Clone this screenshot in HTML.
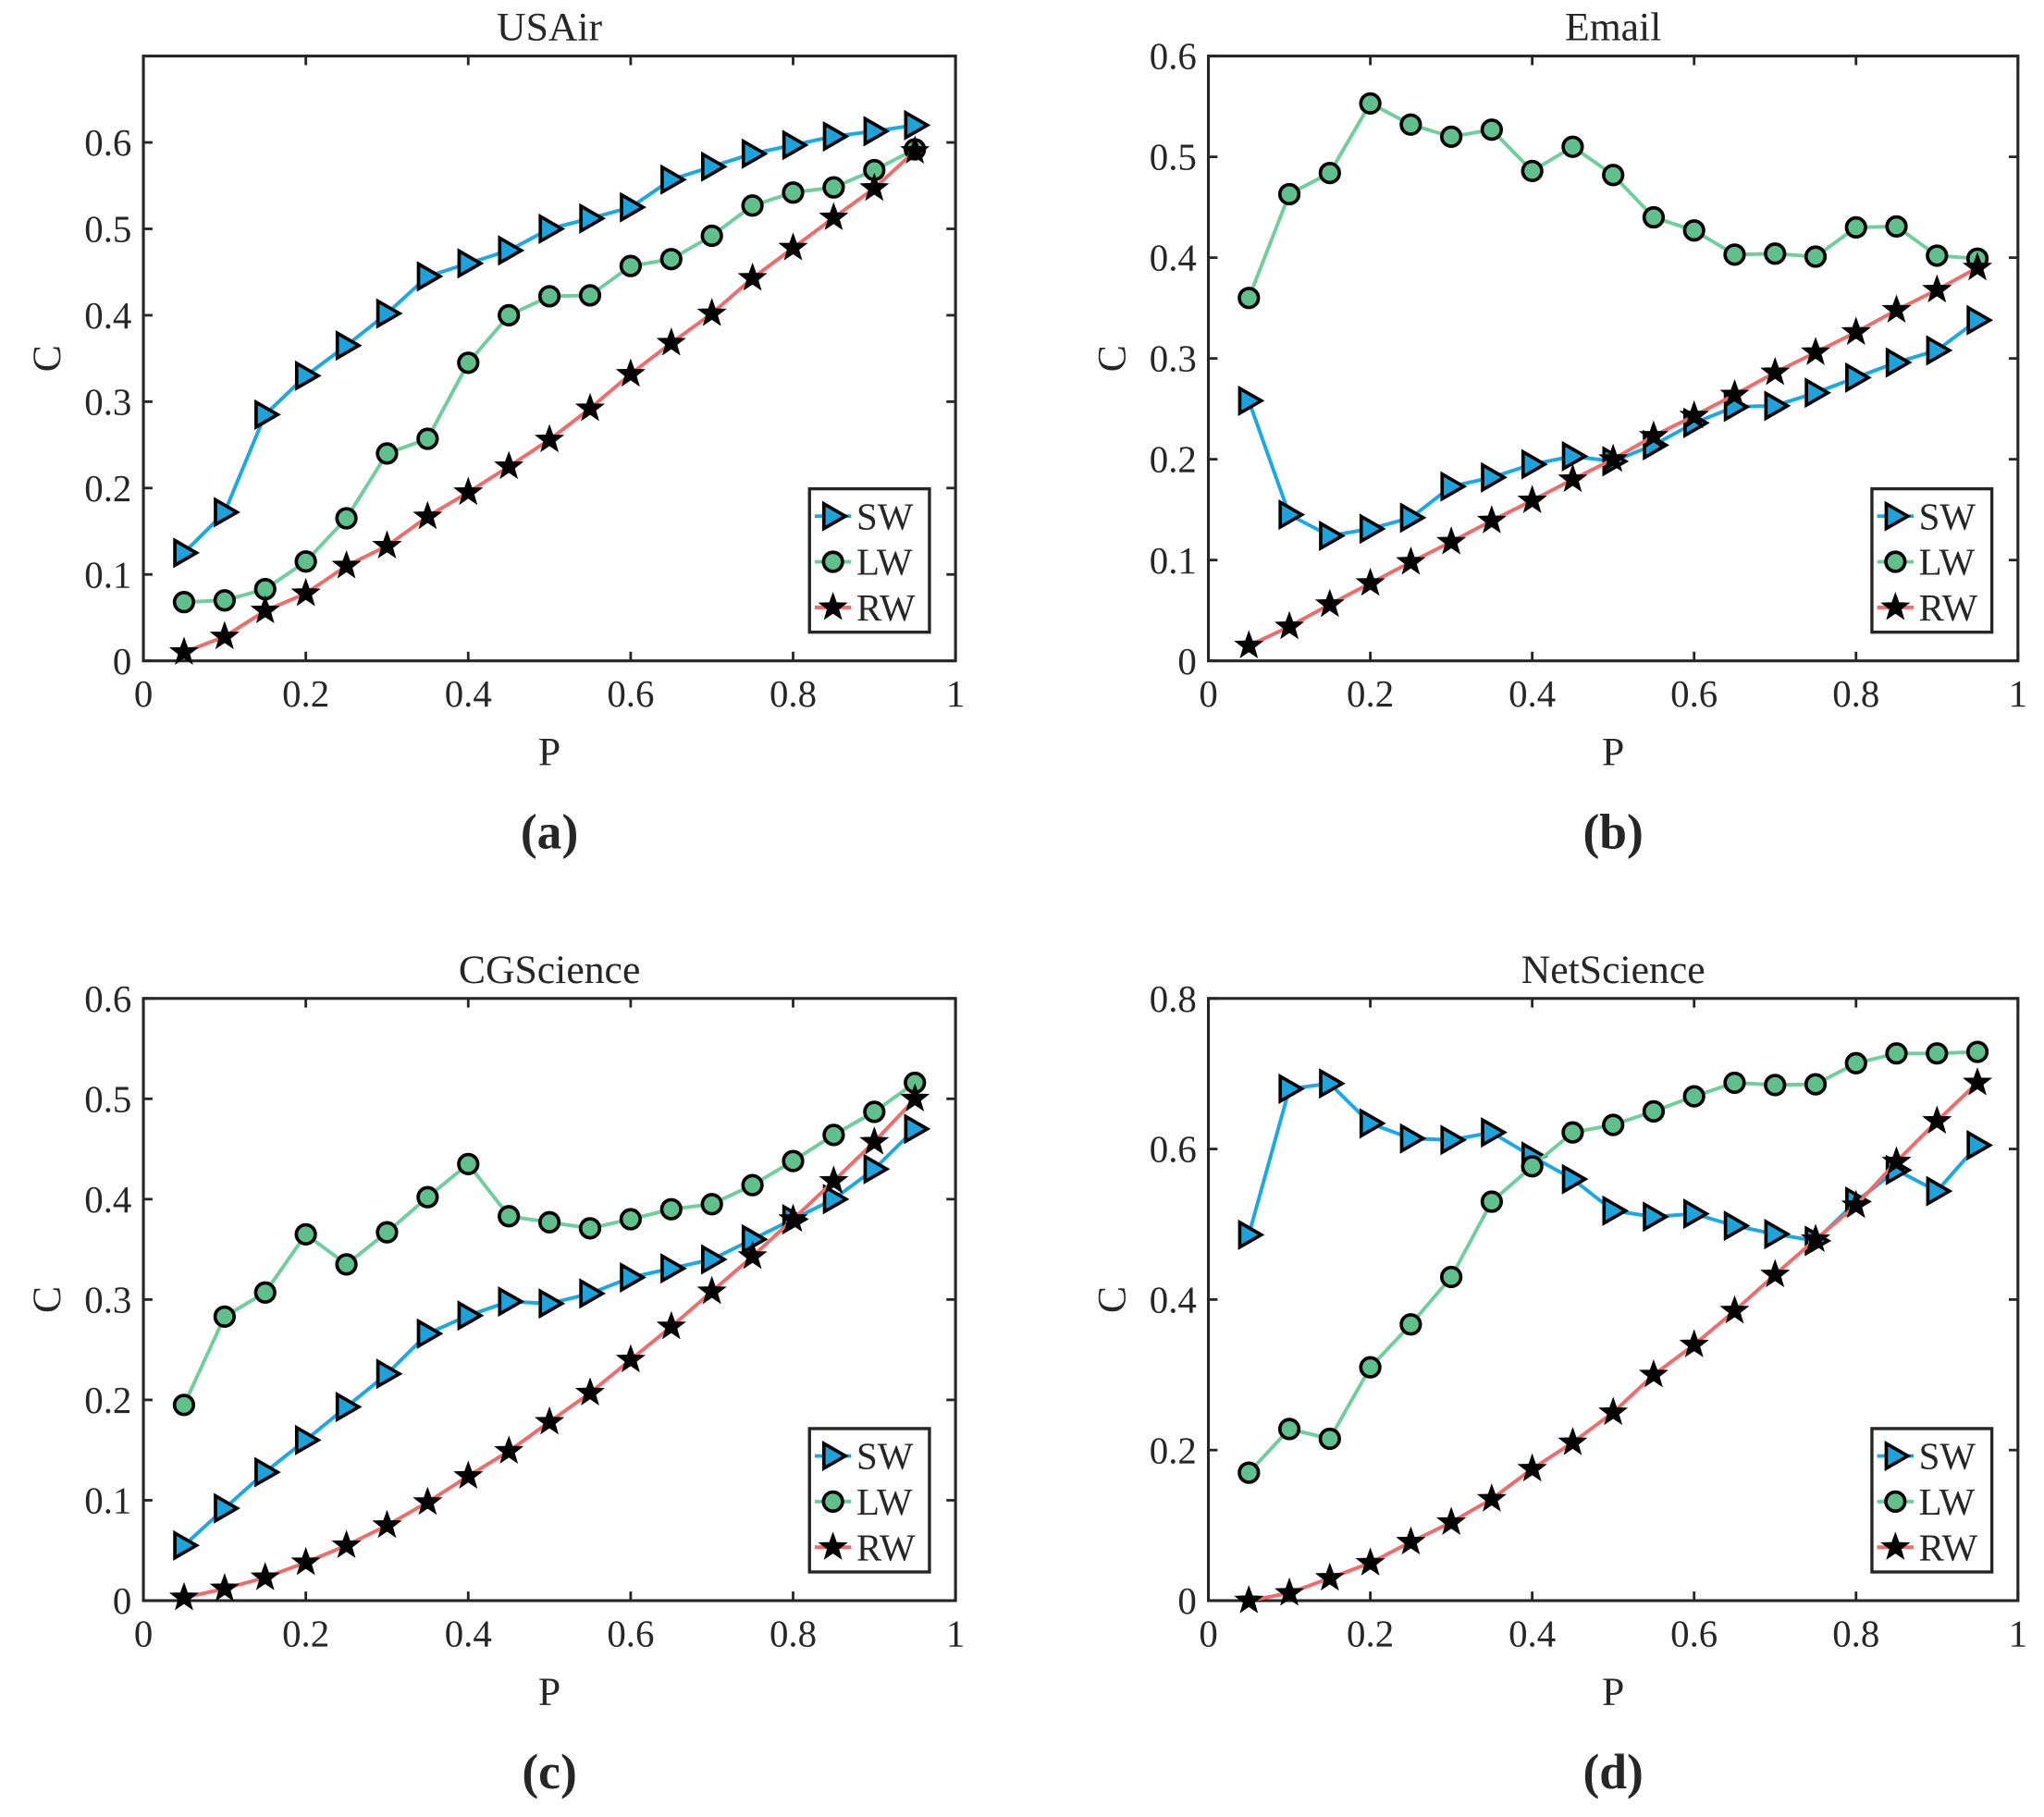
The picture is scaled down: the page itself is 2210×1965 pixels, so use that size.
<!DOCTYPE html>
<html><head><meta charset="utf-8"><style>
html,body{margin:0;padding:0;background:#fff}
svg{display:block}
text{font-family:"Liberation Serif",serif;fill:#262626}
</style></head><body>
<svg id="chart" xmlns="http://www.w3.org/2000/svg" width="2210" height="1965" viewBox="0 0 1568 1394" preserveAspectRatio="none"></svg>
<script>
const pValues=[0.05,0.1,0.15,0.2,0.25,0.3,0.35,0.4,0.45,0.5,0.55,0.6,0.65,0.7,0.75,0.8,0.85,0.9,0.95];
const xTicks=[0,0.2,0.4,0.6,0.8,1];
const xTickLabels=["0","0.2","0.4","0.6","0.8","1"];
const seriesNames=["SW","LW","RW"];
const titles=["USAir","Email","CGScience","NetScience"];
const panelLabels=["(a)","(b)","(c)","(d)"];
const yMaxes=[0.7,0.6,0.6,0.8];
const yTicksA=[0,0.1,0.2,0.3,0.4,0.5,0.6];
const yTicksB=[0,0.1,0.2,0.3,0.4,0.5,0.6];
const yTicksC=[0,0.1,0.2,0.3,0.4,0.5,0.6];
const yTicksD=[0,0.2,0.4,0.6,0.8];
const swA=[.125,.172,.285,.33,.365,.402,.445,.46,.475,.50,.512,.525,.557,.572,.587,.597,.607,.613,.62];
const lwA=[.068,.07,.083,.115,.165,.24,.257,.345,.40,.422,.423,.457,.465,.492,.527,.542,.548,.568,.592];
const rwA=[.01,.028,.058,.078,.11,.133,.167,.195,.225,.256,.292,.332,.368,.402,.443,.478,.513,.547,.59];
const swB=[.258,.145,.124,.131,.142,.173,.182,.195,.203,.198,.214,.236,.252,.253,.266,.281,.296,.308,.338];
const lwB=[.36,.463,.484,.553,.532,.52,.527,.486,.51,.482,.44,.427,.403,.404,.401,.43,.431,.402,.399];
const rwB=[.015,.034,.056,.077,.098,.118,.139,.159,.18,.2,.223,.243,.264,.286,.306,.326,.348,.368,.39];
const swC=[.055,.092,.128,.16,.193,.226,.266,.284,.298,.296,.306,.322,.331,.34,.36,.38,.40,.43,.47];
const lwC=[.195,.283,.307,.365,.335,.367,.402,.435,.383,.377,.371,.38,.39,.395,.414,.438,.464,.487,.516];
const rwC=[.003,.012,.023,.038,.055,.075,.098,.124,.149,.178,.207,.24,.273,.308,.343,.38,.418,.457,.5];
const swD=[.486,.68,.687,.634,.614,.612,.622,.59,.56,.518,.51,.514,.498,.487,.478,.53,.572,.544,.605];
const lwD=[.17,.228,.215,.31,.367,.43,.53,.577,.622,.632,.65,.67,.688,.685,.686,.714,.727,.727,.729];
const rwD=[0,.01,.03,.05,.078,.104,.135,.175,.21,.25,.3,.34,.385,.433,.48,.525,.583,.637,.688];

const panels=[
 {x0:110,x1:733,yb:507,yt:43,yt_:yTicksA,data:[swA,lwA,rwA]},
 {x0:927,x1:1548,yb:507,yt:43,yt_:yTicksB,data:[swB,lwB,rwB]},
 {x0:110,x1:733,yb:1228,yt:766,yt_:yTicksC,data:[swC,lwC,rwC]},
 {x0:927,x1:1548,yb:1228,yt:766,yt_:yTicksD,data:[swD,lwD,rwD]}
];
const lineColors=["#1aa9e6","#6fce9b","#f26b6b"];
const fillColors=["#1ca3dc","#5fc08c","#000"];
const svg=document.getElementById('chart');
const NS="http://www.w3.org/2000/svg";
function mk(tag,attrs,parent){const e=document.createElementNS(NS,tag);for(const k in attrs)e.setAttribute(k,attrs[k]);(parent||svg).appendChild(e);return e;}
function marker(g,kind,x,y){
 if(kind===0){return mk('polygon',{points:`${x-7},${y-9.5} ${x+9.5},${y} ${x-7},${y+9.5}`,fill:fillColors[0],stroke:'#000','stroke-width':2.6},g);}
 if(kind===1){return mk('circle',{cx:x,cy:y,r:7.3,fill:fillColors[1],stroke:'#000','stroke-width':2.6},g);}
 let pts=[];for(let i=0;i<10;i++){const r=i%2?4.3:10.5;const a=-Math.PI/2+i*Math.PI/5;pts.push((x+r*Math.cos(a)).toFixed(1)+','+(y+r*Math.sin(a)).toFixed(1));}
 return mk('polygon',{points:pts.join(' '),fill:'#000',stroke:'#000','stroke-width':1},g);
}
panels.forEach((p,pi)=>{
 const g=mk('g',{});
 
 
 const ymax=yMaxes[pi];
 const sx=v=>p.x0+(p.x1-p.x0)*v;
 const sy=v=>p.yb-(p.yb-p.yt)*v/ymax;
 const box=mk('rect',{x:p.x0,y:p.yt,width:p.x1-p.x0,height:p.yb-p.yt,fill:'#fff',stroke:'#262626','stroke-width':2.2},g);
 
 xTicks.forEach((t,i)=>{
  const X=sx(t);
  mk('line',{x1:X,x2:X,y1:p.yb,y2:p.yb-7,stroke:'#262626','stroke-width':2},g);
  mk('line',{x1:X,x2:X,y1:p.yt,y2:p.yt+7,stroke:'#262626','stroke-width':2},g);
  const tx=mk('text',{x:X,y:p.yb+35,'text-anchor':'middle','font-size':29},g);tx.textContent=xTickLabels[i];
  
 });
 p.yt_.forEach(t=>{
  const Y=sy(t);
  mk('line',{x1:p.x0,x2:p.x0+7,y1:Y,y2:Y,stroke:'#262626','stroke-width':2},g);
  mk('line',{x1:p.x1,x2:p.x1-7,y1:Y,y2:Y,stroke:'#262626','stroke-width':2},g);
  const tx=mk('text',{x:p.x0-9,y:Y+10,'text-anchor':'end','font-size':29},g);tx.textContent=String(t);
  
 });
 const ti=mk('text',{x:(p.x0+p.x1)/2,y:p.yt-12,'text-anchor':'middle','font-size':31},g);ti.textContent=titles[pi];
 
 const xl=mk('text',{x:(p.x0+p.x1)/2,y:p.yb+80,'text-anchor':'middle','font-size':31},g);xl.textContent='P';
 
 const cy=(p.yt+p.yb)/2;
 const yl=mk('text',{x:p.x0-64,y:cy,'text-anchor':'middle','font-size':31,transform:`rotate(-90 ${p.x0-64} ${cy})`},g);yl.textContent='C';
 
 const pl=mk('text',{x:(p.x0+p.x1)/2,y:p.yb+144,'text-anchor':'middle','font-size':38,'font-weight':'bold'},g);pl.textContent=panelLabels[pi];
 
 p.data.forEach((vals,si)=>{
  const sg=mk('g',{},g);
  
  
  const pts=vals.map((v,i)=>sx(pValues[i]).toFixed(1)+','+sy(v).toFixed(1)).join(' ');
  mk('polyline',{points:pts,fill:'none',stroke:lineColors[si],'stroke-width':2.8},sg);
  vals.forEach((v,i)=>{const m=marker(sg,si,sx(pValues[i]),sy(v));
   
   });
 });
 const lx=p.x1-112, ly=p.yb-132;
 const lg=mk('g',{},g);
 
 mk('rect',{x:lx,y:ly,width:92,height:110,fill:'#fff',stroke:'#262626','stroke-width':2.4},lg);
 seriesNames.forEach((n,si)=>{
  const ry=ly+21+si*35;
  const e=mk('g',{},lg);
  
  mk('line',{x1:lx+4,x2:lx+32,y1:ry,y2:ry,stroke:lineColors[si],'stroke-width':2.8},e);
  marker(e,si,lx+18,ry);
  const t=mk('text',{x:lx+36,y:ry+10,'font-size':29},e);t.textContent=n;
 });
});
</script>
</body></html>
